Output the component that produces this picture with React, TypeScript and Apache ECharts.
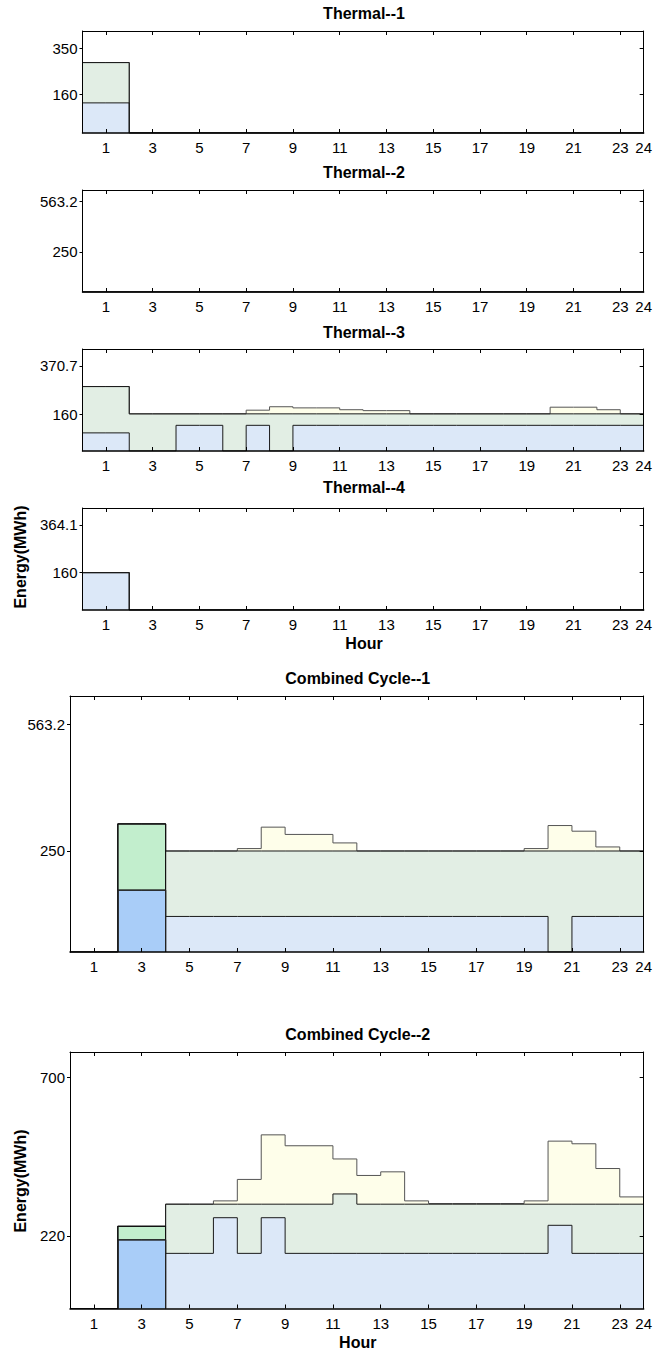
import React, { useEffect, useRef } from "react";
import * as echarts from "echarts";

// x axis (hour) ticks
const xTickValues = [1, 3, 5, 7, 9, 11, 13, 15, 17, 19, 21, 23, 24];

// Each array: 24 values, value i covers hour interval [i, i+1]
// Thermal--1
const t1Blue = [124, 124, 0, 0, 0, 0, 0, 0, 0, 0, 0, 0, 0, 0, 0, 0, 0, 0, 0, 0, 0, 0, 0, 0];
const t1Green = [290, 290, 0, 0, 0, 0, 0, 0, 0, 0, 0, 0, 0, 0, 0, 0, 0, 0, 0, 0, 0, 0, 0, 0];
const t1Yellow = [290, 290, 0, 0, 0, 0, 0, 0, 0, 0, 0, 0, 0, 0, 0, 0, 0, 0, 0, 0, 0, 0, 0, 0];
// Thermal--2
const t2Blue = [0, 0, 0, 0, 0, 0, 0, 0, 0, 0, 0, 0, 0, 0, 0, 0, 0, 0, 0, 0, 0, 0, 0, 0];
const t2Green = [0, 0, 0, 0, 0, 0, 0, 0, 0, 0, 0, 0, 0, 0, 0, 0, 0, 0, 0, 0, 0, 0, 0, 0];
const t2Yellow = [0, 0, 0, 0, 0, 0, 0, 0, 0, 0, 0, 0, 0, 0, 0, 0, 0, 0, 0, 0, 0, 0, 0, 0];
// Thermal--3
const t3Blue = [79, 79, 0, 0, 112, 112, 0, 112, 0, 112, 112, 112, 112, 112, 112, 112, 112, 112, 112, 112, 112, 112, 112, 112];
const t3Green = [281, 281, 162, 162, 162, 162, 162, 162, 162, 162, 162, 162, 162, 162, 162, 162, 162, 162, 162, 162, 162, 162, 162, 162];
const t3Yellow = [281, 281, 162, 162, 162, 162, 162, 178, 193, 188, 188, 180, 176, 176, 162, 162, 162, 162, 162, 162, 191, 191, 180, 162];
// Thermal--4
const t4Blue = [160, 160, 0, 0, 0, 0, 0, 0, 0, 0, 0, 0, 0, 0, 0, 0, 0, 0, 0, 0, 0, 0, 0, 0];
const t4Green = [160, 160, 0, 0, 0, 0, 0, 0, 0, 0, 0, 0, 0, 0, 0, 0, 0, 0, 0, 0, 0, 0, 0, 0];
const t4Yellow = [160, 160, 0, 0, 0, 0, 0, 0, 0, 0, 0, 0, 0, 0, 0, 0, 0, 0, 0, 0, 0, 0, 0, 0];
// Combined Cycle--1
const cc1Blue = [0, 0, 153, 153, 88, 88, 88, 88, 88, 88, 88, 88, 88, 88, 88, 88, 88, 88, 88, 88, 0, 88, 88, 88];
const cc1Green = [0, 0, 317, 317, 250, 250, 250, 250, 250, 250, 250, 250, 250, 250, 250, 250, 250, 250, 250, 250, 250, 250, 250, 250];
const cc1Yellow = [0, 0, 317, 317, 250, 250, 250, 256, 309, 291, 291, 270, 250, 250, 250, 250, 250, 250, 250, 256, 313, 299, 260, 250];
// Combined Cycle--2
const cc2Blue = [0, 0, 208, 208, 167, 167, 275, 167, 275, 167, 167, 167, 167, 167, 167, 167, 167, 167, 167, 167, 252, 167, 167, 167];
const cc2Green = [0, 0, 249, 249, 316, 316, 316, 316, 316, 316, 316, 347, 316, 316, 316, 316, 316, 316, 316, 316, 316, 316, 316, 316];
const cc2Yellow = [0, 0, 249, 249, 316, 316, 326, 391, 526, 493, 493, 453, 403, 414, 326, 318, 318, 318, 318, 326, 507, 499, 424, 338];

// Hours drawn with the stronger colours in combined-cycle panels
const ccHighlightHours = [3, 4];

// y tick values and axis maxima
const t1YTicks = [160, 350];
const t2YTicks = [250, 563.2];
const t3YTicks = [160, 370.7];
const t4YTicks = [160, 364.1];
const cc1YTicks = [250, 563.2];
const cc2YTicks = [220, 700];
const yMaxes = [420, 633.6, 444.8, 436.9, 633.6, 777];

const titles = ["Thermal--1", "Thermal--2", "Thermal--3", "Thermal--4", "Combined Cycle--1", "Combined Cycle--2"];

const FONT = "'Liberation Sans', Arial, Helvetica, sans-serif";
const BLUE = "#dce8f8";
const GREEN = "#e2eee4";
const YELLOW = "#fefeea";
const BLUE_STRONG = "#a9cdf8";
const GREEN_STRONG = "#c2eecd";

const panels = [
  { blue: t1Blue, green: t1Green, yellow: t1Yellow, ticks: t1YTicks, cc: false },
  { blue: t2Blue, green: t2Green, yellow: t2Yellow, ticks: t2YTicks, cc: false },
  { blue: t3Blue, green: t3Green, yellow: t3Yellow, ticks: t3YTicks, cc: false },
  { blue: t4Blue, green: t4Green, yellow: t4Yellow, ticks: t4YTicks, cc: false },
  { blue: cc1Blue, green: cc1Green, yellow: cc1Yellow, ticks: cc1YTicks, cc: true },
  { blue: cc2Blue, green: cc2Green, yellow: cc2Yellow, ticks: cc2YTicks, cc: true },
];

// layout (pixels)
const layout = [
  { left: 82.5, top: 31, width: 563, height: 102, titleY: 13 },
  { left: 82.5, top: 190, width: 563, height: 102, titleY: 172 },
  { left: 82.5, top: 349, width: 563, height: 102, titleY: 332 },
  { left: 82.5, top: 508, width: 563, height: 102, titleY: 487 },
  { left: 70, top: 696, width: 575.5, height: 256, titleY: 678 },
  { left: 70, top: 1052, width: 575.5, height: 256.5, titleY: 1034 },
];

function stepData(vals: number[]) {
  const d: number[][] = vals.map((v, i) => [i, v]);
  d.push([vals.length, vals[vals.length - 1]]);
  return d;
}

function buildOption() {
  const grids: any[] = [];
  const xAxes: any[] = [];
  const yAxes: any[] = [];
  const series: any[] = [];
  const graphics: any[] = [];

  panels.forEach((p, i) => {
    const L = layout[i];
    grids.push({ left: L.left, top: L.top, width: L.width, height: L.height, show: false });
    const axisLine = { show: true, onZero: false, lineStyle: { color: "#000", width: 1 } };
    xAxes.push({
      type: "value", gridIndex: i, position: "bottom", min: 0, max: 24, z: 10,
      axisLine: { ...axisLine, lineStyle: { color: "#000", width: 1.5 } }, splitLine: { show: false },
      axisTick: { show: true, inside: true, length: 4, customValues: xTickValues, lineStyle: { color: "#000" } },
      axisLabel: { show: true, customValues: xTickValues, margin: 7, color: "#000", fontSize: 15, fontFamily: FONT },
    });
    xAxes.push({
      type: "value", gridIndex: i, position: "top", min: 0, max: 24, z: 10,
      axisLine, splitLine: { show: false },
      axisTick: { show: true, inside: true, length: 4, customValues: xTickValues, lineStyle: { color: "#000" } },
      axisLabel: { show: false },
    });
    yAxes.push({
      type: "value", gridIndex: i, position: "left", min: 0, max: yMaxes[i], z: 10,
      axisLine, splitLine: { show: false },
      axisTick: { show: true, inside: false, length: 3, customValues: p.ticks, lineStyle: { color: "#000" } },
      axisLabel: { show: true, customValues: p.ticks, margin: 5, color: "#000", fontSize: 15, fontFamily: FONT, formatter: (v: number) => String(v) },
    });
    yAxes.push({
      type: "value", gridIndex: i, position: "right", min: 0, max: yMaxes[i], z: 10,
      axisLine, splitLine: { show: false },
      axisTick: { show: true, inside: true, length: 4, customValues: p.ticks, lineStyle: { color: "#000" } },
      axisLabel: { show: false },
    });

    const xi = 2 * i;
    const yi = 2 * i;
    const layers = [
      { vals: p.yellow, fill: YELLOW, line: "#555" },
      { vals: p.green, fill: GREEN, line: "#1a1a1a" },
      { vals: p.blue, fill: BLUE, line: "#1a1a1a" },
    ];
    layers.forEach((ly) => {
      series.push({
        type: "line", xAxisIndex: xi, yAxisIndex: yi, step: "end", data: stepData(ly.vals),
        symbol: "none", silent: true,
        lineStyle: { color: ly.line, width: 1 },
        areaStyle: { color: ly.fill, opacity: 1 },
      });
    });
    if (p.cc) {
      const s = ccHighlightHours[0] - 1;
      const e = ccHighlightHours[ccHighlightHours.length - 1];
      const gv = p.green[s];
      const bv = p.blue[s];
      series.push({
        type: "line", xAxisIndex: xi, yAxisIndex: yi,
        data: [[s, 0], [s, gv], [e, gv], [e, 0]], symbol: "none", silent: true,
        lineStyle: { color: "#111", width: 1.2 },
        areaStyle: { color: GREEN_STRONG, opacity: 1 },
      });
      series.push({
        type: "line", xAxisIndex: xi, yAxisIndex: yi,
        data: [[s, 0], [s, bv], [e, bv], [e, 0]], symbol: "none", silent: true,
        lineStyle: { color: "#222", width: 1.2 },
        areaStyle: { color: BLUE_STRONG, opacity: 1 },
      });
    }

    graphics.push({
      type: "text", x: L.left + L.width / 2, y: L.titleY, silent: true,
      style: { text: titles[i], textAlign: "center", textVerticalAlign: "middle", font: `bold 16px ${FONT}`, fill: "#000" },
    });
  });

  // axis titles
  const energyLabels = [
    { x: 20.5, y: 557 },
    { x: 20.5, y: 1181 },
  ];
  energyLabels.forEach((e) => {
    graphics.push({
      type: "text", x: e.x, y: e.y, rotation: Math.PI / 2, silent: true,
      style: { text: "Energy(MWh)", textAlign: "center", textVerticalAlign: "middle", font: `bold 16px ${FONT}`, fill: "#000" },
    });
  });
  const hourLabels = [
    { x: layout[3].left + layout[3].width / 2, y: 643 },
    { x: layout[5].left + layout[5].width / 2, y: 1342 },
  ];
  hourLabels.forEach((h) => {
    graphics.push({
      type: "text", x: h.x, y: h.y, silent: true,
      style: { text: "Hour", textAlign: "center", textVerticalAlign: "middle", font: `bold 16px ${FONT}`, fill: "#000" },
    });
  });

  return {
    animation: false,
    backgroundColor: "#ffffff",
    textStyle: { fontFamily: FONT },
    grid: grids,
    xAxis: xAxes,
    yAxis: yAxes,
    series,
    graphic: graphics,
  };
}

export default function App() {
  const ref = useRef<HTMLDivElement>(null);
  useEffect(() => {
    document.body.style.margin = "0";
    if (!ref.current) return;
    const chart = echarts.init(ref.current, undefined, { renderer: "svg" });
    chart.setOption(buildOption() as any);
    return () => chart.dispose();
  }, []);
  return <div ref={ref} style={{ width: 655, height: 1357 }} />;
}
